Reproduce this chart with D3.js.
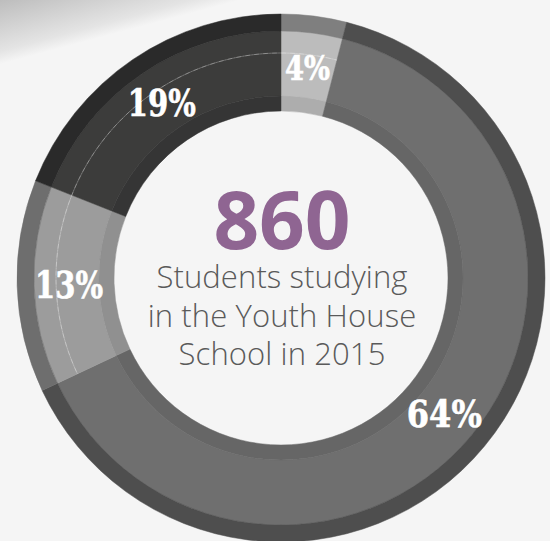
<!DOCTYPE html>
<html>
<head>
<meta charset="utf-8">
<script src="https://cdn.jsdelivr.net/npm/d3@7"></script>
<style>
  html, body { margin: 0; padding: 0; background: #f5f5f5; }
  svg { display: block; }
</style>
</head>
<body>
<svg id="chart" width="550" height="541"></svg>
<script>
// ---- data ----
const categories = ["A", "B", "C", "D"];
const values = [4, 64, 13, 19];
const labels = ["4%", "64%", "13%", "19%"];
const mainColors = ["#bcbcbc", "#6f6f6f", "#9c9c9c", "#3c3c3b"];
const outerColors = ["#7f7f7f", "#4e4e4e", "#6e6e6e", "#2a2a2a"];
const innerColors = ["#adadad", "#666666", "#909090", "#353535"];
const totalValue = "860";
const subtitleLines = ["Students studying", "in the Youth House", "School in 2015"];

// ---- layout ----
const W = 550, H = 541;
const cx = 281, cy = 278;
const rOuter = 264, rOuterBand = 247, rInnerBand = 182, rInner = 167;
const rLabel = 212, rDash = 225;

const svg = d3.select("#chart");
const defs = svg.append("defs");
const grad = defs.append("linearGradient")
  .attr("id", "corner").attr("gradientUnits", "userSpaceOnUse")
  .attr("x1", 0).attr("y1", 0).attr("x2", 16).attr("y2", 60);
grad.append("stop").attr("offset", 0).attr("stop-color", "#bdbdbd");
grad.append("stop").attr("offset", 0.8).attr("stop-color", "#e4e4e4");
grad.append("stop").attr("offset", 1).attr("stop-color", "#f5f5f5");

svg.append("rect").attr("width", W).attr("height", H).attr("fill", "url(#corner)");

const g = svg.append("g").attr("transform", `translate(${cx},${cy})`);

const pie = d3.pie().sort(null).value(d => d)(values);

const arcMain = d3.arc().innerRadius(rInnerBand).outerRadius(rOuterBand);
const arcOuter = d3.arc().innerRadius(rOuterBand).outerRadius(rOuter);
const arcInner = d3.arc().innerRadius(rInner).outerRadius(rInnerBand);

g.selectAll("path.main").data(pie).join("path").attr("class", "main")
  .attr("d", arcMain).attr("fill", (d, i) => mainColors[i])
  .attr("stroke", (d, i) => mainColors[i]).attr("stroke-width", 0.5);
g.selectAll("path.outer").data(pie).join("path").attr("class", "outer")
  .attr("d", arcOuter).attr("fill", (d, i) => outerColors[i])
  .attr("stroke", (d, i) => outerColors[i]).attr("stroke-width", 0.5);
g.selectAll("path.inner").data(pie).join("path").attr("class", "inner")
  .attr("d", arcInner).attr("fill", (d, i) => innerColors[i])
  .attr("stroke", (d, i) => innerColors[i]).attr("stroke-width", 0.5);

// thin dashed guide arc over the small segments
const dashArc = d3.arc().innerRadius(rDash).outerRadius(rDash)
  .startAngle(pie[2].startAngle).endAngle(pie[0].endAngle + 2 * Math.PI);
g.append("path").attr("d", dashArc())
  .attr("fill", "none").attr("stroke", "#ffffff").attr("stroke-opacity", 0.35)
  .attr("stroke-width", 0.7).attr("stroke-dasharray", "7 2");

// percent labels
const labelArc = d3.arc().innerRadius(rLabel).outerRadius(rLabel);
const labelSize = [33, 38, 38, 38];
const labelLen = [45, 75, 68, 68];
g.selectAll("text.pct").data(pie).join("text").attr("class", "pct")
  .attr("x", d => labelArc.centroid(d)[0])
  .attr("y", d => labelArc.centroid(d)[1])
  .attr("dy", "0.36em")
  .attr("text-anchor", "middle")
  .attr("font-family", "'DejaVu Serif Condensed', 'DejaVu Serif', serif")
  .attr("font-stretch", "condensed")
  .attr("font-weight", "bold")
  .attr("font-size", (d, i) => labelSize[i])
  .attr("textLength", (d, i) => labelLen[i])
  .attr("lengthAdjust", "spacingAndGlyphs")
  .attr("fill", "#ffffff")
  .attr("stroke", "#ffffff")
  .attr("stroke-width", 0.6)
  .text((d, i) => labels[i]);

// center text
svg.append("text")
  .attr("x", 282).attr("y", 249)
  .attr("text-anchor", "middle")
  .attr("font-family", "'Open Sans', sans-serif")
  .attr("font-weight", 700)
  .attr("font-size", 80)
  .attr("fill", "#8f6592")
  .text(totalValue);

const lineY = [288, 327, 365];
svg.selectAll("text.sub").data(subtitleLines).join("text").attr("class", "sub")
  .attr("x", 282).attr("y", (d, i) => lineY[i])
  .attr("text-anchor", "middle")
  .attr("font-family", "'Open Sans', sans-serif")
  .attr("font-weight", 300)
  .attr("font-size", 31)
  .attr("letter-spacing", 0.1)
  .attr("fill", "#5a5a5a")
  .text(d => d);
</script>
</body>
</html>
